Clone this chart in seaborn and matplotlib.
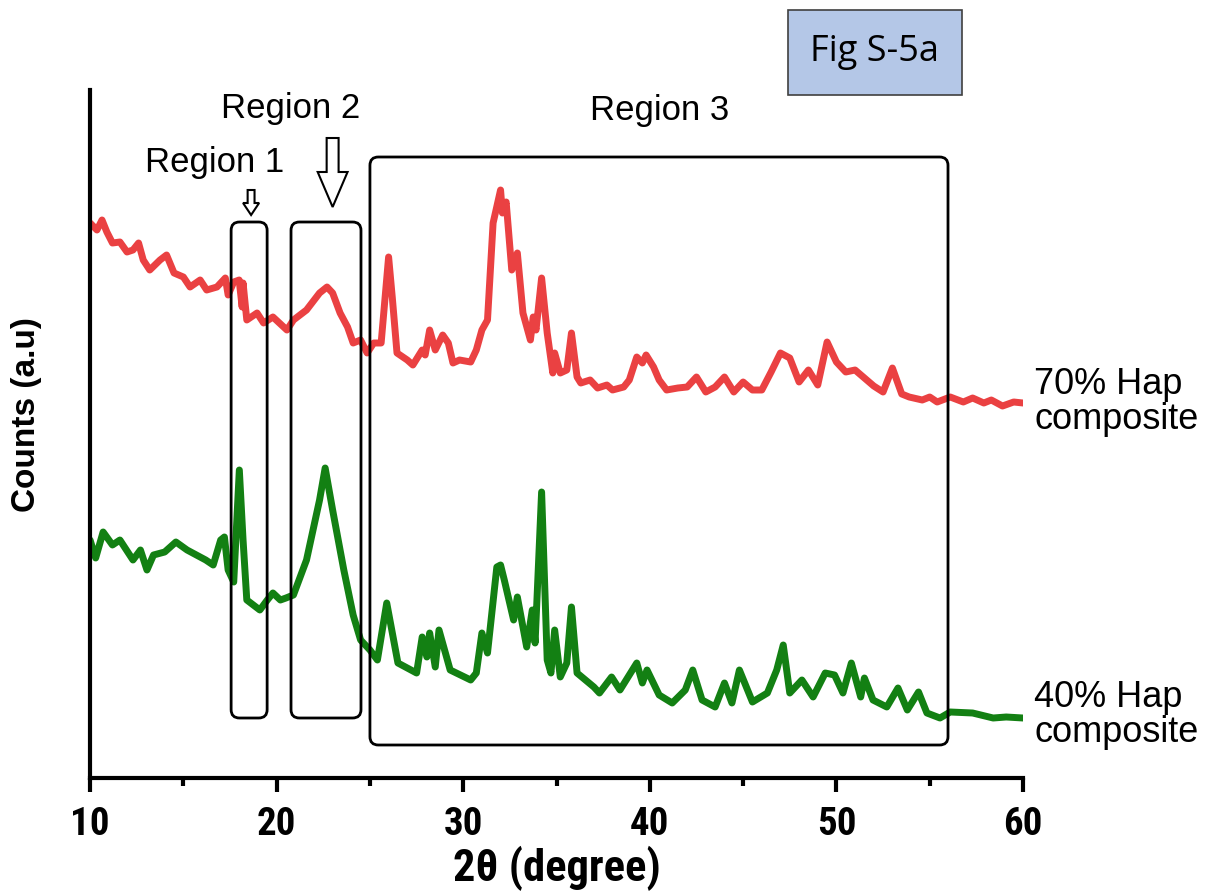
import matplotlib
matplotlib.use("Agg")
import matplotlib.pyplot as plt
from matplotlib.patches import FancyBboxPatch, FancyArrow, Rectangle
import seaborn as sns

# ----------------------------
# Data (counts in arbitrary units)
# ----------------------------
x_70 = [10.0, 10.37, 10.64, 10.9, 11.2, 11.6, 11.98, 12.3, 12.6, 12.85, 13.2,
        13.75, 14.1, 14.5, 15.0, 15.36, 15.9, 16.25, 16.8, 17.25, 17.4, 17.7,
        17.99, 18.15, 18.2, 18.4, 18.95, 19.3, 19.8, 20.55, 20.9, 21.6, 22.3,
        22.7, 23.0, 23.4, 23.8, 24.1, 24.5, 24.85, 25.2, 25.6, 25.9, 26.0,
        26.2, 26.45, 27.0, 27.3, 27.8, 27.96, 28.2, 28.5, 28.9, 29.2, 29.45,
        29.8, 30.4, 30.7, 31.0, 31.3, 31.6, 32.0, 32.1, 32.3, 32.6, 32.9,
        33.2, 33.6, 33.75, 33.9, 34.2, 34.5, 34.8, 34.9, 35.2, 35.55, 35.8,
        36.1, 36.3, 36.8, 37.2, 37.7, 38.0, 38.6, 38.9, 39.3, 39.6, 39.8,
        40.2, 40.5, 40.9, 41.5, 42.0, 42.5, 43.0, 43.5, 44.0, 44.5, 45.0,
        45.5, 46.0, 46.5, 47.0, 47.5, 48.0, 48.5, 49.0, 49.5, 50.0, 50.5,
        51.0, 51.5, 52.0, 52.5, 53.0, 53.5, 53.9, 54.6, 55.0, 55.4, 56.1,
        56.8, 57.3, 57.9, 58.3, 58.9, 59.5, 60.0]
y_70 = [555, 548, 558, 546, 535, 536, 526, 528, 535, 518, 508,
        518, 523, 505, 501, 491, 498, 488, 491, 500, 483, 496,
        498, 471, 495, 458, 465, 455, 461, 448, 458, 468, 485,
        491, 485, 465, 451, 435, 438, 425, 435, 435, 500, 521,
        480, 425, 418, 413, 428, 423, 448, 428, 443, 435, 415,
        418, 416, 428, 448, 458, 555, 588, 565, 576, 508, 525,
        465, 438, 461, 448, 500, 445, 405, 425, 405, 408, 445,
        401, 395, 398, 390, 393, 388, 391, 398, 421, 415, 423,
        411, 398, 388, 390, 391, 401, 386, 391, 401, 386, 396,
        388, 388, 406, 425, 420, 396, 408, 393, 436, 416, 406,
        408, 400, 392, 386, 410, 384, 381, 378, 381, 376, 381,
        376, 380, 375, 378, 372, 376, 375]

x_40 = [10, 10.3, 10.7, 11.2, 11.6, 12.3, 12.7, 13.05, 13.4, 14, 14.6, 15.2,
        15.7, 16.2, 16.6, 17.0, 17.2, 17.4, 17.7, 18.0, 18.2, 18.4, 19.1,
        19.5, 19.8, 20.2, 20.5, 20.9, 21.6, 22.3, 22.6, 23.0, 23.6, 24.1,
        24.5, 25.0, 25.4, 25.9, 26.5, 27.5, 27.8, 28.05, 28.2, 28.5, 28.7,
        29.3, 30.4, 30.7, 31.0, 31.3, 31.8, 32.0, 32.2, 32.7, 32.9, 33.4,
        33.7, 33.85, 34.2, 34.5, 34.7, 34.9, 35.2, 35.55, 35.8, 36.1, 37.0,
        37.3, 37.95, 38.4, 39.3, 39.6, 39.85, 40.5, 41.2, 41.9, 42.3, 42.8,
        43.5, 44.0, 44.4, 44.8, 45.5, 46.3, 46.8, 47.15, 47.5, 48.15, 48.75,
        49.4, 49.9, 50.35, 50.8, 51.3, 51.5, 51.96, 52.7, 53.3, 53.8, 54.4,
        54.85, 55.55, 56.1, 57.3, 58.4, 59.1, 60]
y_40 = [238, 220, 246, 233, 238, 218, 228, 208, 223, 226, 236, 228,
        223, 218, 213, 238, 241, 208, 196, 308, 238, 178, 168,
        178, 185, 178, 180, 183, 218, 278, 310, 268, 208, 163,
        138, 128, 118, 175, 115, 105, 141, 121, 145, 111, 148,
        108, 98, 105, 145, 125, 211, 213, 198, 158, 181, 131,
        168, 135, 286, 118, 105, 148, 101, 115, 171, 105, 91,
        85, 101, 88, 115, 95, 108, 83, 75, 88, 108, 78,
        71, 95, 75, 108, 76, 85, 108, 133, 85, 98, 81,
        105, 103, 85, 115, 81, 100, 78, 71, 90, 68, 86,
        65, 60, 66, 65, 60, 61, 60]

x_ticks = [10, 20, 30, 40, 50, 60]
series_labels = ["70% Hap\ncomposite", "40% Hap\ncomposite"]
region_labels = ["Region 1", "Region 2", "Region 3"]

RED = "#EA4142"
GREEN = "#138013"

# ----------------------------
# Figure
# ----------------------------
sns.set_style("ticks")
plt.rcParams["font.family"] = ["Liberation Sans", "DejaVu Sans"]
plt.rcParams["text.color"] = "black"
plt.rcParams["axes.labelcolor"] = "black"
plt.rcParams["xtick.color"] = "black"

fig = plt.figure(figsize=(12.17, 8.92), dpi=100)
ax = fig.add_axes([0.074, 0.1278, 0.7666, 0.7713])

line_kw = dict(lw=5, solid_joinstyle="round", solid_capstyle="round")
sns.lineplot(x=x_70, y=y_70, color=RED, ax=ax, **line_kw)
sns.lineplot(x=x_40, y=y_40, color=GREEN, ax=ax, **line_kw)

ax.set_xlim(10, 60)
ax.set_ylim(0, 688)
ax.set_yticks([])
ax.set_xticks(x_ticks)
ax.set_xticks([15, 25, 35, 45, 55], minor=True)
sns.despine(ax=ax)
for s in ["left", "bottom"]:
    ax.spines[s].set_linewidth(3)
    ax.spines[s].set_color("black")
ax.tick_params(axis="x", which="major", length=10, width=3, color="black", pad=10)
ax.tick_params(axis="x", which="minor", length=6, width=3, color="black")

narrow = ["Roboto Condensed", "Liberation Sans Narrow", "Liberation Sans"]
ax.set_xticklabels([str(t) for t in x_ticks], family=narrow,
                   fontsize=28, fontweight="bold")
ax.set_xlabel("2\u03b8 (degree)", family=narrow, fontsize=32,
              fontweight="bold", labelpad=2)
ax.set_ylabel("Counts (a.u)", fontsize=24, fontweight="bold")
ax.yaxis.set_label_coords(-0.051, 0.528)

# region boxes (rounded)
aspect = 18.66
boxes = [(17.56, 60, 1.93, 496), (20.77, 60, 3.75, 496), (25.0, 33, 30.98, 588)]
for (bx, by, bw, bh) in boxes:
    ax.add_patch(FancyBboxPatch((bx, by), bw, bh,
                                boxstyle="round,pad=0,rounding_size=0.45",
                                mutation_aspect=aspect, fc="none", ec="black",
                                lw=2, zorder=3))

# hollow arrows
ax.add_patch(FancyArrow(18.63, 588, 0, -25, width=0.37, head_width=0.86,
                        head_length=12, length_includes_head=True,
                        fc="white", ec="black", lw=1.5, zorder=4))
ax.add_patch(FancyArrow(23.0, 640, 0, -69, width=0.64, head_width=1.6,
                        head_length=35, length_includes_head=True,
                        fc="white", ec="black", lw=1.5, zorder=4))

ax.text(16.7, 616, region_labels[0], fontsize=25, ha="center", va="center")
ax.text(20.77, 670, region_labels[1], fontsize=25, ha="center", va="center",
        clip_on=False)
ax.text(40.5, 668, region_labels[2], fontsize=25, ha="center", va="center")

ax.text(60.6, 376, series_labels[0], fontsize=26, ha="left", va="center",
        linespacing=1.0, clip_on=False)
ax.text(60.6, 63, series_labels[1], fontsize=26, ha="left", va="center",
        linespacing=1.0, clip_on=False)

# figure tag
fig.patches.append(Rectangle((788 / 1217, 1 - 95 / 892), 174 / 1217, 85 / 892,
                             transform=fig.transFigure, fc="#B4C7E7",
                             ec="#404040", lw=1.2))
fig.text(875 / 1217, 1 - 52 / 892, "Fig S-5a", family=["Open Sans", "DejaVu Sans"],
         fontsize=26, ha="center", va="center")

fig.savefig("out.png", dpi=100)
